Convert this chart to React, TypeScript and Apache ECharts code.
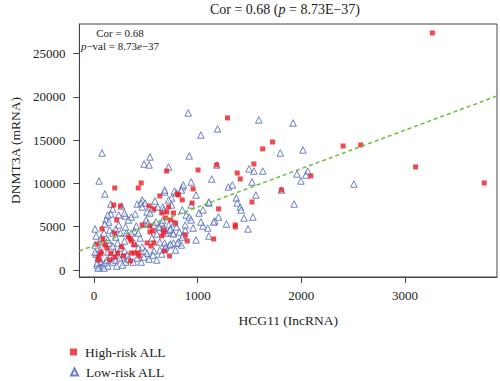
import React, { useEffect, useRef } from "react";
import * as echarts from "echarts";

// HCG11 (lncRNA) vs DNMT3A (mRNA) expression
const highRisk: number[][] = [
  [3264, 27370], [1287, 17560], [3103, 11900], [3765, 10050], [2573, 14440], [2403, 14320],
  [1722, 14780], [1627, 13980], [1183, 12130], [1542, 12240], [1381, 11200], [1410, 10510],
  [2091, 10860], [1807, 9240], [1523, 7850], [1201, 7050], [1362, 5200], [1362, 4970],
  [1154, 3580], [700, 11430], [1003, 11550], [955, 9360], [804, 8780], [851, 8090],
  [946, 7740], [454, 10050], [426, 9470], [199, 9470], [634, 8550], [189, 7510],
  [530, 7390], [577, 7050], [218, 5780], [76, 4740], [463, 5200], [539, 4390],
  [199, 4270], [28, 3000], [104, 2890], [265, 2660], [350, 3580], [577, 3120],
  [66, 2080], [161, 1960], [227, 1960], [284, 1620], [359, 1960], [388, 1960],
  [426, 1960], [350, 1040], [47, 1160], [151, 1160], [255, 7390], [814, 8660],
  [700, 6700], [719, 7280], [766, 6580], [331, 3810], [359, 3350], [388, 2890],
  [568, 4500], [539, 5080], [653, 3930], [672, 4270], [738, 5780], [691, 6010],
  [728, 1620], [511, 3120], [549, 2770], [435, 1620], [123, 2540], [199, 1500],
  [38, 1500], [66, 1850], [785, 5430], [672, 4620], [880, 4040], [899, 3350],
  [681, 2200], [653, 6580], [85, 3580]
];

const lowRisk: number[][] = [
  [908, 18130], [1589, 17330], [1920, 16980], [1192, 16290], [1031, 15590], [1797, 13510],
  [2015, 13860], [1183, 12130], [1495, 11670], [1542, 11430], [1627, 11430], [1135, 10510],
  [1296, 9590], [1334, 9820], [1523, 10160], [1958, 11090], [2062, 11430], [2043, 10970],
  [1996, 10280], [2507, 9930], [1807, 9240], [1561, 8660], [1372, 8320], [1107, 7740],
  [1381, 7740], [1410, 7280], [1419, 6930], [1930, 7620], [1201, 6120], [1164, 5660],
  [1277, 5310], [1447, 6010], [1532, 6120], [1485, 4740], [1097, 4850], [1107, 3930],
  [918, 13170], [719, 11900], [937, 10160], [681, 9010], [776, 9120], [851, 9590],
  [861, 9820], [842, 9240], [747, 8320], [1107, 7850], [76, 13510], [539, 13050],
  [482, 12240], [530, 12130], [47, 10280], [104, 8780], [464, 8090], [587, 7970],
  [265, 7390], [416, 7620], [454, 7740], [492, 7740], [558, 7050], [615, 7280],
  [161, 6470], [237, 6350], [303, 6240], [359, 6120], [9, 4740], [95, 4270],
  [237, 5200], [407, 5080], [492, 5310], [388, 4500], [359, 4270], [255, 4270],
  [312, 4270], [634, 4970], [85, 3230], [151, 3120], [161, 7620], [180, 7050],
  [132, 6350], [114, 5780], [142, 5540], [293, 6580], [331, 5780], [397, 6470],
  [464, 7280], [511, 6700], [539, 6580], [501, 5780], [520, 5430], [681, 9240],
  [795, 8890], [719, 8090], [747, 7510], [851, 6930], [66, 3700], [151, 4620],
  [180, 4270], [208, 3810], [577, 5200], [596, 5540], [624, 4970], [653, 5430],
  [672, 4850], [691, 4270], [719, 5200], [728, 4620], [757, 4270], [776, 5430],
  [795, 4970], [823, 4390], [861, 4040], [814, 3230], [842, 2890], [880, 4620],
  [880, 5200], [634, 3230], [681, 3120], [728, 2890], [766, 3120], [785, 2310],
  [681, 2430], [634, 2310], [577, 2200], [464, 2660], [492, 2200], [511, 1960],
  [255, 2540], [293, 2200], [322, 1730], [274, 1500], [227, 1730], [199, 2080],
  [57, 2310], [19, 1850], [38, 1390], [66, 920], [28, 580], [57, 350],
  [85, 580], [104, 810], [123, 1160], [151, 1500], [180, 920], [208, 1160],
  [246, 1390], [9, 2080], [9, 2890], [662, 7280], [672, 6930], [889, 6350],
  [918, 6120], [937, 5780], [1012, 6580], [1050, 5080], [1154, 5540], [738, 4740],
  [662, 5780], [766, 4160], [851, 3810], [804, 3120], [738, 3000], [691, 2660],
  [653, 1850], [47, 1390], [28, 810], [38, 230], [132, 2080], [303, 920],
  [331, 1270], [378, 920], [416, 1390], [454, 920], [482, 1500], [530, 1270],
  [568, 1730], [274, 580], [218, 460], [132, 460], [95, 230], [605, 1160],
  [426, 2540], [388, 3120], [445, 3700], [426, 4270], [293, 3350], [227, 3120],
  [180, 2770], [132, 3470], [19, 3930], [104, 5310], [208, 4740], [303, 4970],
  [558, 3700], [605, 4160], [955, 4850], [984, 3470], [1031, 5540], [937, 7510],
  [984, 8660], [1050, 6930]
];

// fitted regression line end points (x range of the plot)
const trendLine: number[][] = [[-142, 2195], [3888, 20090]];

const xTicks = [0, 1000, 2000, 3000];
const yTicks = [0, 5000, 10000, 15000, 20000, 25000];
const seriesNames = ["High-risk ALL", "Low-risk ALL"];

const FONT = "'Liberation Serif', 'DejaVu Serif', serif";

const legendBase = {
  orient: "vertical",
  left: 70,
  padding: 0,
  itemWidth: 7, itemHeight: 7,
  textStyle: { fontFamily: FONT, fontSize: 13.5, color: "#222", padding: [0, 0, 0, 3] },
};

export default function App() {
  const ref = useRef<HTMLDivElement>(null);
  useEffect(() => {
    document.body.style.margin = "0";
    if (!ref.current) return;
    const chart = echarts.init(ref.current, null, { renderer: "svg" });
    chart.setOption({
      animation: false,
      backgroundColor: "#fff",
      textStyle: { fontFamily: FONT },
      grid: {
        left: 71, right: 3, top: 24, bottom: 104,
        show: true, borderColor: "#444", borderWidth: 1, containLabel: false,
      },
      xAxis: {
        type: "value", min: -142, max: 3888,
        name: "HCG11 (IncRNA)", nameLocation: "middle", nameGap: 36,
        nameTextStyle: { fontFamily: FONT, fontSize: 13.5, color: "#222" },
        axisLine: { show: true, onZero: false, lineStyle: { color: "#444", width: 1 } },
        axisTick: { show: true, length: 6, customValues: xTicks, lineStyle: { color: "#444" } },
        axisLabel: {
          customValues: xTicks, margin: 12, fontFamily: FONT, fontSize: 13, color: "#222",
          formatter: (v: number) => String(v),
        },
        splitLine: { show: false },
      },
      yAxis: {
        type: "value", min: -808, max: 28400,
        name: "DNMT3A (mRNA)", nameLocation: "middle", nameGap: 51, nameRotate: 90,
        nameTextStyle: { fontFamily: FONT, fontSize: 13.5, color: "#222" },
        axisLine: { show: true, onZero: false, lineStyle: { color: "#444", width: 1 } },
        axisTick: { show: true, length: 6, customValues: yTicks, lineStyle: { color: "#444" } },
        axisLabel: {
          customValues: yTicks, margin: 14, fontFamily: FONT, fontSize: 13, color: "#222",
          formatter: (v: number) => String(v),
        },
        splitLine: { show: false },
      },
      legend: [
        { ...legendBase, data: [seriesNames[0]], top: 345 },
        { ...legendBase, data: [seriesNames[1]], top: 365 },
      ],
      graphic: [
        {
          type: "text", x: 285, y: 9,
          style: {
            text: "{n|Cor = 0.68 (}{i|p}{n| = 8.73E−37)}",
            align: "center", verticalAlign: "middle",
            rich: {
              n: { fontFamily: FONT, fontSize: 14, fill: "#222" },
              i: { fontFamily: FONT, fontSize: 14, fontStyle: "italic", fill: "#222" },
            },
          },
        },
        {
          type: "text", x: 120, y: 33,
          style: {
            text: "Cor = 0.68", align: "center", verticalAlign: "middle",
            fontFamily: FONT, fontSize: 11, fill: "#222",
          },
        },
        {
          type: "text", x: 120, y: 46,
          style: {
            text: "{i|p}{n|−val = 8.73}{i|e}{n|−37}",
            align: "center", verticalAlign: "middle",
            rich: {
              n: { fontFamily: FONT, fontSize: 11, fill: "#222" },
              i: { fontFamily: FONT, fontSize: 11, fontStyle: "italic", fill: "#222" },
            },
          },
        },
      ],
      series: [
        {
          name: seriesNames[1], type: "scatter", data: lowRisk,
          symbol: "triangle", symbolSize: 6.5,
          itemStyle: { color: "rgba(255,255,255,0.6)", borderColor: "#4862b4", borderWidth: 1 },
        },
        {
          name: seriesNames[0], type: "scatter", data: highRisk,
          symbol: "rect", symbolSize: 5,
          itemStyle: { color: "#ee1c25" },
        },
        {
          name: "trend", type: "line", data: trendLine, symbol: "none",
          lineStyle: { color: "#6cbf3a", width: 1.5, type: [4, 3] },
          silent: true,
        },
      ],
    });
    return () => chart.dispose();
  }, []);
  return <div ref={ref} style={{ width: 500, height: 381 }} />;
}
